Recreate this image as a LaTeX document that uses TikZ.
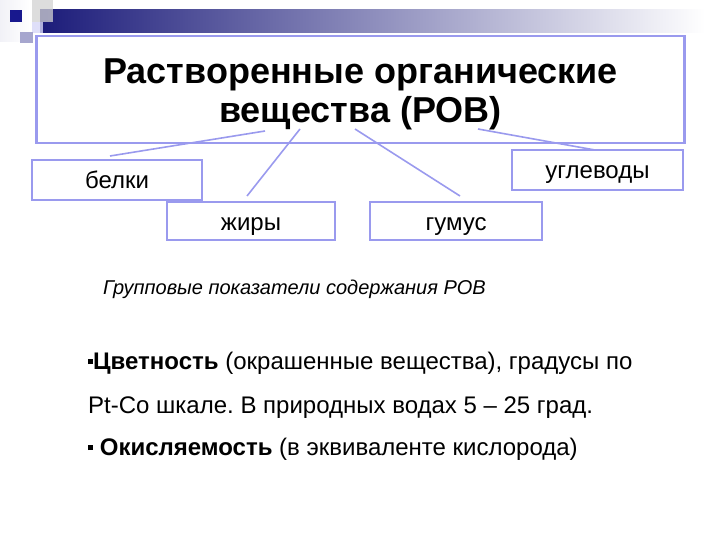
\documentclass[tikz,border=0pt]{standalone}
\usepackage{fontspec}
\setmainfont{Liberation Sans}
\frenchspacing
\definecolor{frame}{HTML}{9A9AEE}
\definecolor{navy}{HTML}{1C1C7A}
\tikzset{
  box/.style={draw=frame,line width=2.5pt,fill=white,inner sep=0pt},
  topic/.style={box,minimum width=170,minimum height=40,text height=18,text depth=0,
    font=\fontsize{24}{28}\selectfont},
  link/.style={draw=frame,line width=1.6pt},
  line/.style={anchor=base west,inner sep=0pt,font=\fontsize{24}{28}\selectfont}
}
\begin{document}
\begin{tikzpicture}[x=1pt,y=-1pt]
      \useasboundingbox (0,0) rectangle (720,540);
      % top left ornament
      \fill[left color=navy!6,right color=white] (0,0) rectangle (30,42);
      \shade[left color=navy,middle color=navy!30,right color=white] (40,10) rectangle (705,33);
      \fill[gray!35,opacity=0.75] (32,0) rectangle (53,22);
      \fill[frame!40,opacity=0.8] (32,22) rectangle (43,33);
      \fill[frame!60!gray!80] (20,32) rectangle (33,43);
      \fill[navy!85!blue] (10,10) rectangle (22,22);
      % title and topics
      \draw
        (360.5,89.5) node[box,minimum width=648,minimum height=107] (rov){}
        (360.5,94) node[align=center,inner sep=0pt,
          font=\fontsize{36}{39}\selectfont\bfseries] (title)
          {Растворенные органические\\вещества (РОВ)}
        (117,180) node[topic] (belki){белки}
        (251,221) node[topic,minimum width=168,minimum height=38] (zhiry){жиры}
        (456,221) node[topic,minimum width=172,minimum height=38] (gumus){гумус}
        (597.5,170) node[topic,minimum width=171] (uglevody){углеводы};
      \coordinate (s1) at (265,131);
      \coordinate (s2) at (300,129);
      \coordinate (s3) at (355,129);
      \coordinate (s4) at (478,129);
      \coordinate (e1) at (110,156);
      \coordinate (e2) at (247,196);
      \coordinate (e3) at (460,196);
      \coordinate (e4) at (595,150);
      \begin{scope}[link]
        \draw (s1) to (e1);
        \draw (s2) to (e2);
        \draw (s3) to (e3);
        \draw (s4) to (e4);
      \end{scope}
      % indicators
      \node[line,font=\fontsize{20}{24}\selectfont\itshape] (group)
        at (103,294) {Групповые показатели содержания РОВ};
      \node[line] (cvet) at (88,369)
        {\rule[5pt]{5pt}{5pt}\textbf{Цветность} (окрашенные вещества), градусы по};
      \node[line] (ptco) at (88,413)
        {Pt-Co шкале. В природных водах 5 – 25 град.};
      \node[line] (okisl) at (88,455)
        {\rule[5pt]{5pt}{5pt} \textbf{Окисляемость} (в эквиваленте кислорода)};
    \end{tikzpicture}
\end{document}
